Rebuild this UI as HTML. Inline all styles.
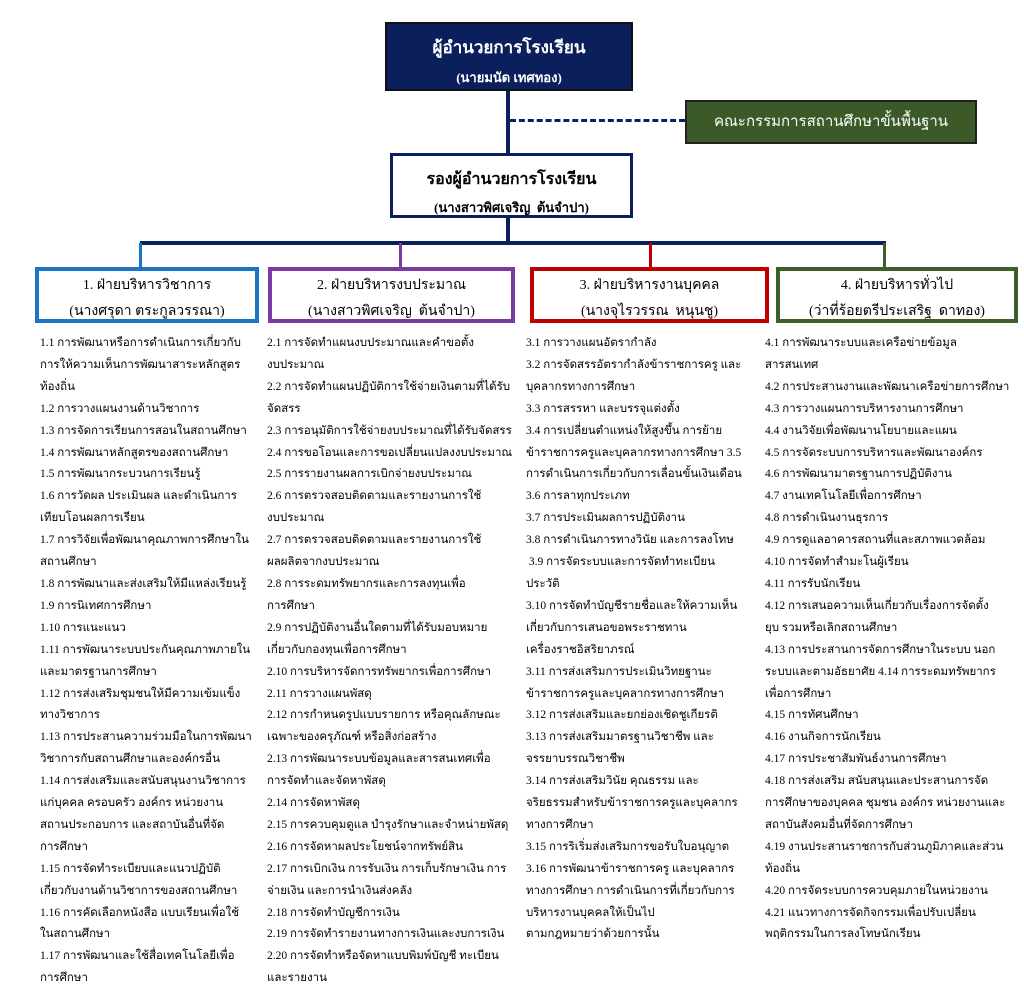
<!DOCTYPE html>
<html><head><meta charset="utf-8">
<style>
body{margin:0;width:1024px;height:1001px;background:#fff;position:relative;overflow:hidden;font-family:"Liberation Serif","DejaVu Serif",serif;}
.abs{position:absolute;}
.box{position:absolute;box-sizing:border-box;text-align:center;}
.col{position:absolute;top:333px;font-size:11.5px;line-height:21.9px;white-space:nowrap;color:#000;}
.hd{font-size:14px;line-height:22px;}
</style></head><body>
<div class="box" style="left:385px;top:22px;width:248px;height:69px;background:#0b1f5c;border:2px solid #111;color:#fff;">
<div style="font-size:17px;font-weight:bold;margin-top:10px;">ผู้อำนวยการโรงเรียน</div>
<div style="font-size:13px;font-weight:bold;margin-top:6px;">(นายมนัด เทศทอง)</div>
</div>
<div class="abs" style="left:506px;top:91px;width:4px;height:63px;background:#0b1f5c;"></div>
<div class="abs" style="left:510px;top:119px;width:175px;border-top:3px dashed #0b1f5c;"></div>
<div class="box" style="left:685px;top:100px;width:292px;height:44px;background:#3b5a27;border:2px solid #222;color:#fff;font-size:15px;line-height:40px;">คณะกรรมการสถานศึกษาขั้นพื้นฐาน</div>
<div class="box" style="left:390px;top:153px;width:243px;height:65px;border:3px solid #0b1f5c;background:#fff;">
<div style="font-size:16px;font-weight:bold;margin-top:11px;">รองผู้อำนวยการโรงเรียน</div>
<div style="font-size:13px;font-weight:bold;margin-top:5px;">(นางสาวพิศเจริญ&nbsp;&nbsp;ต้นจำปา)</div>
</div>
<div class="abs" style="left:506px;top:218px;width:4px;height:25px;background:#0b1f5c;"></div>
<div class="abs" style="left:140px;top:241px;width:746px;height:4px;background:#0b1f5c;"></div>
<div class="abs" style="left:139px;top:243px;width:3px;height:25px;background:#1a75c4;"></div>
<div class="abs" style="left:399px;top:243px;width:3px;height:25px;background:#7a3aa0;"></div>
<div class="abs" style="left:649px;top:243px;width:3px;height:25px;background:#c00000;"></div>
<div class="abs" style="left:883px;top:243px;width:3px;height:25px;background:#3d5f2a;"></div>
<div class="box" style="left:35px;top:267px;width:224px;height:56px;border:4px solid #1a75c4;"><div class="hd" style="margin-top:4px;">1. ฝ่ายบริหารวิชาการ</div><div class="hd" style="margin-top:4px;">(นางศรุดา ตระกูลวรรณา)</div></div>
<div class="box" style="left:268px;top:267px;width:247px;height:56px;border:4px solid #7a3aa0;"><div class="hd" style="margin-top:4px;">2. ฝ่ายบริหารงบประมาณ</div><div class="hd" style="margin-top:4px;">(นางสาวพิศเจริญ&nbsp;&nbsp;ต้นจำปา)</div></div>
<div class="box" style="left:530px;top:267px;width:239px;height:56px;border:4px solid #c00000;"><div class="hd" style="margin-top:4px;">3. ฝ่ายบริหารงานบุคคล</div><div class="hd" style="margin-top:4px;">(นางจุไรวรรณ&nbsp;&nbsp;หนุนชู)</div></div>
<div class="box" style="left:776px;top:267px;width:242px;height:56px;border:4px solid #3d5f2a;"><div class="hd" style="margin-top:4px;">4. ฝ่ายบริหารทั่วไป</div><div class="hd" style="margin-top:4px;">(ว่าที่ร้อยตรีประเสริฐ&nbsp;&nbsp;ดาทอง)</div></div>

<div class="col" style="left:40px;">1.1 การพัฒนาหรือการดำเนินการเกี่ยวกับ<br>การให้ความเห็นการพัฒนาสาระหลักสูตร<br>ท้องถิ่น<br>1.2 การวางแผนงานด้านวิชาการ<br>1.3 การจัดการเรียนการสอนในสถานศึกษา<br>1.4 การพัฒนาหลักสูตรของสถานศึกษา<br>1.5 การพัฒนากระบวนการเรียนรู้<br>1.6 การวัดผล ประเมินผล และดำเนินการ<br>เทียบโอนผลการเรียน<br>1.7 การวิจัยเพื่อพัฒนาคุณภาพการศึกษาใน<br>สถานศึกษา<br>1.8 การพัฒนาและส่งเสริมให้มีแหล่งเรียนรู้<br>1.9 การนิเทศการศึกษา<br>1.10 การแนะแนว<br>1.11 การพัฒนาระบบประกันคุณภาพภายใน<br>และมาตรฐานการศึกษา<br>1.12 การส่งเสริมชุมชนให้มีความเข้มแข็ง<br>ทางวิชาการ<br>1.13 การประสานความร่วมมือในการพัฒนา<br>วิชาการกับสถานศึกษาและองค์กรอื่น<br>1.14 การส่งเสริมและสนับสนุนงานวิชาการ<br>แก่บุคคล ครอบครัว องค์กร หน่วยงาน<br>สถานประกอบการ และสถาบันอื่นที่จัด<br>การศึกษา<br>1.15 การจัดทำระเบียบและแนวปฏิบัติ<br>เกี่ยวกับงานด้านวิชาการของสถานศึกษา<br>1.16 การคัดเลือกหนังสือ แบบเรียนเพื่อใช้<br>ในสถานศึกษา<br>1.17 การพัฒนาและใช้สื่อเทคโนโลยีเพื่อ<br>การศึกษา</div>

<div class="col" style="left:267px;">2.1 การจัดทำแผนงบประมาณและคำขอตั้ง<br>งบประมาณ<br>2.2 การจัดทำแผนปฏิบัติการใช้จ่ายเงินตามที่ได้รับ<br>จัดสรร<br>2.3 การอนุมัติการใช้จ่ายงบประมาณที่ได้รับจัดสรร<br>2.4 การขอโอนและการขอเปลี่ยนแปลงงบประมาณ<br>2.5 การรายงานผลการเบิกจ่ายงบประมาณ<br>2.6 การตรวจสอบติดตามและรายงานการใช้<br>งบประมาณ<br>2.7 การตรวจสอบติดตามและรายงานการใช้<br>ผลผลิตจากงบประมาณ<br>2.8 การระดมทรัพยากรและการลงทุนเพื่อ<br>การศึกษา<br>2.9 การปฏิบัติงานอื่นใดตามที่ได้รับมอบหมาย<br>เกี่ยวกับกองทุนเพื่อการศึกษา<br>2.10 การบริหารจัดการทรัพยากรเพื่อการศึกษา<br>2.11 การวางแผนพัสดุ<br>2.12 การกำหนดรูปแบบรายการ หรือคุณลักษณะ<br>เฉพาะของครุภัณฑ์ หรือสิ่งก่อสร้าง<br>2.13 การพัฒนาระบบข้อมูลและสารสนเทศเพื่อ<br>การจัดทำและจัดหาพัสดุ<br>2.14 การจัดหาพัสดุ<br>2.15 การควบคุมดูแล บำรุงรักษาและจำหน่ายพัสดุ<br>2.16 การจัดหาผลประโยชน์จากทรัพย์สิน<br>2.17 การเบิกเงิน การรับเงิน การเก็บรักษาเงิน การ<br>จ่ายเงิน และการนำเงินส่งคลัง<br>2.18 การจัดทำบัญชีการเงิน<br>2.19 การจัดทำรายงานทางการเงินและงบการเงิน<br>2.20 การจัดทำหรือจัดหาแบบพิมพ์บัญชี ทะเบียน<br>และรายงาน</div>

<div class="col" style="left:526px;">3.1 การวางแผนอัตรากำลัง<br>3.2 การจัดสรรอัตรากำลังข้าราชการครู และ<br>บุคลากรทางการศึกษา<br>3.3 การสรรหา และบรรจุแต่งตั้ง<br>3.4 การเปลี่ยนตำแหน่งให้สูงขึ้น การย้าย<br>ข้าราชการครูและบุคลากรทางการศึกษา 3.5<br>การดำเนินการเกี่ยวกับการเลื่อนขั้นเงินเดือน<br>3.6 การลาทุกประเภท<br>3.7 การประเมินผลการปฏิบัติงาน<br>3.8 การดำเนินการทางวินัย และการลงโทษ<br>&nbsp;3.9 การจัดระบบและการจัดทำทะเบียน<br>ประวัติ<br>3.10 การจัดทำบัญชีรายชื่อและให้ความเห็น<br>เกี่ยวกับการเสนอขอพระราชทาน<br>เครื่องราชอิสริยาภรณ์<br>3.11 การส่งเสริมการประเมินวิทยฐานะ<br>ข้าราชการครูและบุคลากรทางการศึกษา<br>3.12 การส่งเสริมและยกย่องเชิดชูเกียรติ<br>3.13 การส่งเสริมมาตรฐานวิชาชีพ และ<br>จรรยาบรรณวิชาชีพ<br>3.14 การส่งเสริมวินัย คุณธรรม และ<br>จริยธรรมสำหรับข้าราชการครูและบุคลากร<br>ทางการศึกษา<br>3.15 การริเริ่มส่งเสริมการขอรับใบอนุญาต<br>3.16 การพัฒนาข้าราชการครู และบุคลากร<br>ทางการศึกษา การดำเนินการที่เกี่ยวกับการ<br>บริหารงานบุคคลให้เป็นไป<br>ตามกฎหมายว่าด้วยการนั้น</div>

<div class="col" style="left:765px;">4.1 การพัฒนาระบบและเครือข่ายข้อมูล<br>สารสนเทศ<br>4.2 การประสานงานและพัฒนาเครือข่ายการศึกษา<br>4.3 การวางแผนการบริหารงานการศึกษา<br>4.4 งานวิจัยเพื่อพัฒนานโยบายและแผน<br>4.5 การจัดระบบการบริหารและพัฒนาองค์กร<br>4.6 การพัฒนามาตรฐานการปฏิบัติงาน<br>4.7 งานเทคโนโลยีเพื่อการศึกษา<br>4.8 การดำเนินงานธุรการ<br>4.9 การดูแลอาคารสถานที่และสภาพแวดล้อม<br>4.10 การจัดทำสำมะโนผู้เรียน<br>4.11 การรับนักเรียน<br>4.12 การเสนอความเห็นเกี่ยวกับเรื่องการจัดตั้ง<br>ยุบ รวมหรือเลิกสถานศึกษา<br>4.13 การประสานการจัดการศึกษาในระบบ นอก<br>ระบบและตามอัธยาศัย 4.14 การระดมทรัพยากร<br>เพื่อการศึกษา<br>4.15 การทัศนศึกษา<br>4.16 งานกิจการนักเรียน<br>4.17 การประชาสัมพันธ์งานการศึกษา<br>4.18 การส่งเสริม สนับสนุนและประสานการจัด<br>การศึกษาของบุคคล ชุมชน องค์กร หน่วยงานและ<br>สถาบันสังคมอื่นที่จัดการศึกษา<br>4.19 งานประสานราชการกับส่วนภูมิภาคและส่วน<br>ท้องถิ่น<br>4.20 การจัดระบบการควบคุมภายในหน่วยงาน<br>4.21 แนวทางการจัดกิจกรรมเพื่อปรับเปลี่ยน<br>พฤติกรรมในการลงโทษนักเรียน</div>
</body></html>
